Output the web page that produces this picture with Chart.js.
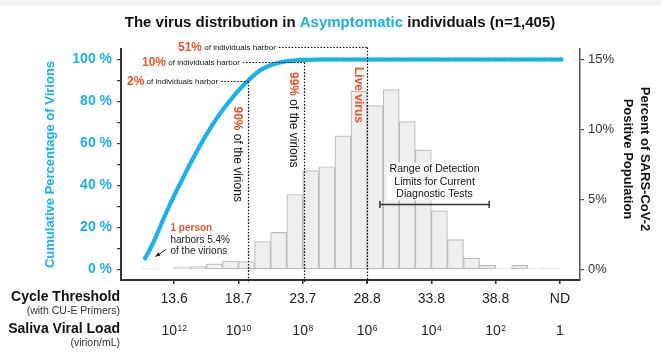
<!DOCTYPE html>
<html><head><meta charset="utf-8">
<script src="https://cdn.jsdelivr.net/npm/chart.js@4.4.0/dist/chart.umd.min.js"></script>
<style>html,body{margin:0;padding:0;background:#fff;}#wrap{width:662px;height:354px;}</style>
</head><body><div id="wrap"><canvas id="c" width="662" height="354"></canvas></div>
<script>
// ---- data (x in histogram-bin units; 4 bins per Ct tick step) ----
const binPercent = [0.07,0,0.14,0.2,0.4,0.6,0.57,2.0,2.65,5.36,7.06,7.34,9.55,12.73,11.7,12.85,10.57,8.54,4.19,2.13,0.81,0.29,0.07,0.29,0.07,0.07];
const cumX = [0.19,0.7,1.33,1.95,2.57,2.99,3.5,4.0,4.5,5.0,5.5,6.0,6.58,7.34,8.17,9.0,10.1,11.7,26.1];
const cumY = [5.4,12.8,24.0,34.4,43.9,50.3,57.5,64.2,70.3,75.8,80.7,85.2,89.8,94.8,97.7,99.2,99.8,100,100];
const tickPos = [2,6,10,14,18,22,26];
const ctLabels = ['13.6','18.7','23.7','28.8','33.8','38.8','ND'];
const loadBase = ['10','10','10','10','10','10','1'];
const loadExp = ['12','10','8','6','4','2',''];
const leftTicks = [0,10,20,30,40,50,60,70,80,90,100];
const rightTicks = [0,5,10,15];
const markerX = [6.6, 10.08, 14.0];
const markerY = [90, 99, 106];
const markerPct = ['2%','10%','51%'];
const markerVPct = ['90%','99%','Live virus'];
const markerVText = [' of the virions',' of the virions',''];
const detectRange = [14.8, 21.6];
const detectLevel = 4.7;

const BLUE = '#19b1ec', RED = '#f0532b';
const FONT = "'Liberation Sans', Arial, sans-serif";
Chart.defaults.font.family = FONT;

function f(sz, bold){ return (bold?'bold ':'') + sz + 'px ' + FONT; }

const annot = {
  id: 'annot',
  beforeDraw(chart){
    const ctx = chart.ctx; ctx.save();
    ctx.fillStyle = '#f1f1f1'; ctx.fillRect(0,0,662,6);
    ctx.restore();
  },
  afterDatasetsDraw(chart){
    const ctx = chart.ctx, xs = chart.scales.x, ys = chart.scales.y, y2 = chart.scales.y2;
    const bottom = chart.chartArea.bottom;
    ctx.save();
    const textX = [127, 142, 178];
    const vOff = [-11, -11, -9.5];
    const vTop = [106.5, 72, 67];
    for (let i = 0; i < markerX.length; i++) {
      const px = Math.round(xs.getPixelForValue(markerX[i])) + 0.5;
      const py = Math.round(ys.getPixelForValue(markerY[i])) + 0.5;
      ctx.font = f(12, true); ctx.fillStyle = RED; ctx.textBaseline = 'middle'; ctx.textAlign = 'left';
      ctx.fillText(markerPct[i], textX[i], py + 0.5);
      let w = ctx.measureText(markerPct[i]).width;
      ctx.font = f(8, false); ctx.fillStyle = '#111';
      const t = ' of individuals harbor';
      ctx.fillText(t, textX[i] + w, py + 0.5);
      const w2 = ctx.measureText(t).width;
      ctx.strokeStyle = '#111'; ctx.lineWidth = 1.2; ctx.setLineDash([1.6,1.6]);
      ctx.beginPath(); ctx.moveTo(textX[i] + w + w2 + 3, py); ctx.lineTo(px, py);
      ctx.moveTo(px, py); ctx.lineTo(px, bottom + 3); ctx.stroke();
      ctx.setLineDash([]);
      ctx.save();
      ctx.translate(px + vOff[i], vTop[i]); ctx.rotate(Math.PI/2);
      ctx.textAlign = 'left'; ctx.textBaseline = 'middle';
      ctx.font = f(12, true); ctx.fillStyle = RED;
      ctx.fillText(markerVPct[i], 0, 0);
      const vw = ctx.measureText(markerVPct[i]).width;
      ctx.font = f(12, false); ctx.fillStyle = '#111';
      ctx.fillText(markerVText[i], vw, 0);
      ctx.restore();
    }
    // detection range
    const rx0 = xs.getPixelForValue(detectRange[0]), rx1 = xs.getPixelForValue(detectRange[1]);
    const ry = Math.round(y2.getPixelForValue(detectLevel)) + 0.5;
    const lines = ['Range of Detection','Limits for Current','Diagnostic Tests'];
    ctx.font = f(10.5, false);
    let mw = 0; lines.forEach(l => mw = Math.max(mw, ctx.measureText(l).width));
    const cx = (rx0 + rx1) / 2;
    ctx.fillStyle = '#fff'; ctx.fillRect(cx - mw/2 - 3, ry - 42, mw + 6, 38);
    ctx.fillStyle = '#111'; ctx.textAlign = 'center'; ctx.textBaseline = 'middle';
    lines.forEach((l, k) => ctx.fillText(l, cx, ry - 35 + k * 12.5));
    ctx.strokeStyle = '#333'; ctx.lineWidth = 1.5;
    ctx.beginPath(); ctx.moveTo(rx0, ry); ctx.lineTo(rx1, ry);
    ctx.moveTo(rx0, ry - 3.5); ctx.lineTo(rx0, ry + 3.5);
    ctx.moveTo(rx1, ry - 3.5); ctx.lineTo(rx1, ry + 3.5); ctx.stroke();
    // 1 person note
    ctx.textAlign = 'left'; ctx.textBaseline = 'middle';
    ctx.font = f(10, true); ctx.fillStyle = RED; ctx.fillText('1 person', 170.5, 228.5);
    ctx.font = f(10, false); ctx.fillStyle = '#222';
    ctx.fillText('harbors 5.4%', 170.5, 240);
    ctx.fillText('of the virions', 170.5, 251);
    ctx.strokeStyle = '#222'; ctx.lineWidth = 1;
    const ax0 = 166, ay0 = 249.5, ax1 = 155.5, ay1 = 256.5;
    ctx.beginPath(); ctx.moveTo(ax0, ay0); ctx.lineTo(ax1, ay1); ctx.stroke();
    const ang = Math.atan2(ay1 - ay0, ax1 - ax0);
    ctx.fillStyle = '#222'; ctx.beginPath();
    ctx.moveTo(ax1, ay1);
    ctx.lineTo(ax1 - 5*Math.cos(ang - 0.45), ay1 - 5*Math.sin(ang - 0.45));
    ctx.lineTo(ax1 - 5*Math.cos(ang + 0.45), ay1 - 5*Math.sin(ang + 0.45));
    ctx.closePath(); ctx.fill();

    // title
    ctx.textBaseline = 'middle'; ctx.textAlign = 'left'; ctx.font = f(15, true);
    const parts = [['The virus distribution in ', '#111'], ['Asymptomatic', BLUE], [' individuals (n=1,405)', '#111']];
    let tw = 0; parts.forEach(p => tw += ctx.measureText(p[0]).width);
    let tx = 340 - tw / 2;
    parts.forEach(p => { ctx.fillStyle = p[1]; ctx.fillText(p[0], tx, 23); tx += ctx.measureText(p[0]).width; });

    // axis titles
    ctx.save(); ctx.translate(50, 164.5); ctx.rotate(-Math.PI/2);
    ctx.textAlign = 'center'; ctx.font = f(13, true); ctx.fillStyle = BLUE;
    ctx.fillText('Cumulative Percentage of Virions', 0, 0); ctx.restore();
    ctx.save(); ctx.translate(645, 159); ctx.rotate(Math.PI/2);
    ctx.textAlign = 'center'; ctx.font = f(13, true); ctx.fillStyle = '#111';
    ctx.fillText('Percent of SARS-CoV-2', 0, 0);
    ctx.fillText('Positive Population', 0, 17); ctx.restore();

    // bottom rows
    ctx.textAlign = 'right'; ctx.fillStyle = '#111';
    ctx.font = f(14, true); ctx.fillText('Cycle Threshold', 120, 297);
    ctx.fillText('Saliva Viral Load', 120, 329);
    ctx.font = f(10.5, false); ctx.fillStyle = '#333';
    ctx.fillText('(with CU-E Primers)', 120, 311.5);
    ctx.fillText('(virion/mL)', 120, 343);
    for (let i = 0; i < tickPos.length; i++) {
      const px = xs.getPixelForValue(tickPos[i]);
      ctx.textAlign = 'center'; ctx.textBaseline = 'middle'; ctx.fillStyle = '#222';
      ctx.font = f(14, false); ctx.fillText(ctLabels[i], px, 299.5);
      ctx.textAlign = 'left'; ctx.textBaseline = 'alphabetic';
      ctx.font = f(14, false); const wb = ctx.measureText(loadBase[i]).width;
      ctx.font = f(8.5, false); const we = loadExp[i] ? ctx.measureText(loadExp[i]).width + 0.5 : 0;
      const sx = px - (wb + we) / 2;
      ctx.font = f(14, false); ctx.fillText(loadBase[i], sx, 335);
      if (loadExp[i]) { ctx.font = f(8.5, false); ctx.fillText(loadExp[i], sx + wb + 0.5, 331); }
    }
    ctx.restore();
  }
};

new Chart(document.getElementById('c'), {
  data: {
    datasets: [
      { type: 'line', order: 0, yAxisID: 'y', xAxisID: 'x',
        data: cumX.map((x, i) => ({x: x, y: cumY[i]})),
        borderColor: BLUE, borderWidth: 4.5, borderDash: [0.5, 2.8], borderCapStyle: 'round',
        pointRadius: 0, cubicInterpolationMode: 'monotone', fill: false },
      { type: 'bar', order: 1, yAxisID: 'y2', xAxisID: 'x',
        data: binPercent.map((v, i) => ({x: i + 0.5, y: v})),
        backgroundColor: '#efefef', borderColor: '#bdbdbd', borderWidth: 1.2, borderSkipped: false,
        barPercentage: 1, categoryPercentage: 1 }
    ]
  },
  options: {
    responsive: false, animation: false, devicePixelRatio: 1,
    layout: { padding: { top: 49, left: 0, right: 0, bottom: 0 } },
    plugins: { legend: { display: false }, tooltip: { enabled: false }, title: { display: false } },
    scales: {
      x: { type: 'linear', position: 'bottom', min: -1.31, max: 27.25, offset: false,
        afterBuildTicks: s => { s.ticks = tickPos.map(v => ({value: v})); },
        ticks: { display: false },
        grid: { drawOnChartArea: false, drawTicks: true, tickLength: 4, color: '#333', lineWidth: 1.5, offset: false },
        border: { display: true, color: '#333', width: 2 },
        afterFit: s => { s.height = 74; } },
      y: { type: 'linear', position: 'left', min: -5, max: 105,
        afterBuildTicks: s => { s.ticks = leftTicks.map(v => ({value: v})); },
        ticks: { callback: v => (v % 20 === 0 ? v + ' %' : ''), color: BLUE, font: { size: 14, weight: 'bold' }, padding: 5 },
        grid: { drawOnChartArea: false, drawTicks: true, tickLength: 4, color: '#333', lineWidth: 1.2 },
        border: { display: true, color: '#333', width: 2 },
        afterFit: s => { s.width = 121; } },
      y2: { type: 'linear', position: 'right', min: -0.75, max: 15.75,
        afterBuildTicks: s => { s.ticks = rightTicks.map(v => ({value: v})); },
        ticks: { callback: v => v + '%', color: '#333', font: { size: 13 }, padding: 4 },
        grid: { drawOnChartArea: false, drawTicks: true, tickLength: 4, color: '#555', lineWidth: 1.2 },
        border: { display: true, color: '#555', width: 1.5 },
        afterFit: s => { s.width = 82; } }
    }
  },
  plugins: [annot]
});
</script></body></html>
